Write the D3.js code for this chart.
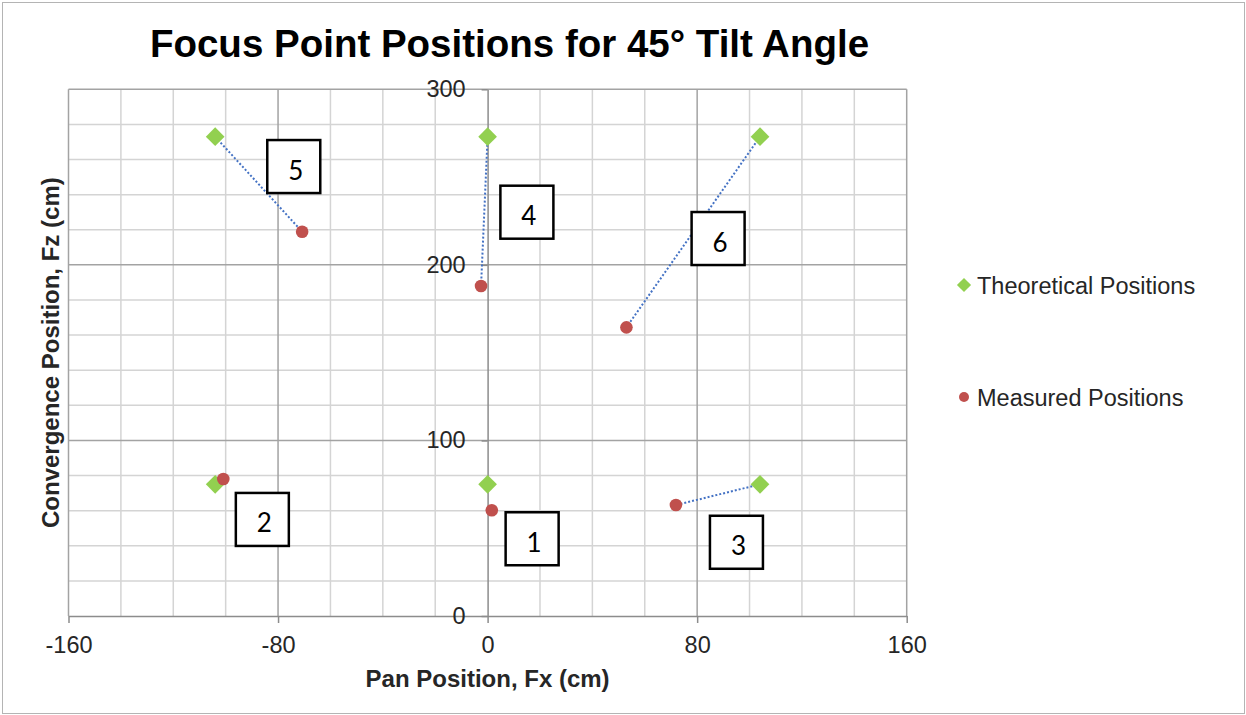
<!DOCTYPE html>
<html>
<head>
<meta charset="utf-8">
<script src="https://cdn.jsdelivr.net/npm/d3@7"></script>
<style>
	body { margin: 0; background: #fff; }
	svg { display: block; }
</style>
</head>
<body>
<div id="chart"></div>
<script>
// 数据
var pointIds = [1, 2, 3, 4, 5, 6];
var theoX = [0, -104, 104, 0, -104, 104];
var theoZ = [75, 75, 75, 273, 273, 273];
var measX = [1.6, -100.9, 71.9, -2.5, -70.8, 53.0];
var measZ = [60.2, 78.0, 63.2, 188.0, 218.9, 164.4];
var linkedIds = [3, 4, 5, 6];
// 编号框的位置 (数据坐标)
var labelX = [17, -86, 95, 15, -74, 88];
var labelZ = [44, 55, 42, 230, 256, 215];
var xTicks = [-160, -80, 0, 80, 160];
var zTicks = [0, 100, 200, 300];
var seriesNames = ['Theoretical Positions', 'Measured Positions'];

var W = 1246, H = 715;
var plot = { left: 68.5, right: 906.7, top: 89.3, bottom: 616 };
var green = '#92d050', red = '#c0504d', blue = '#4472c4';
var armFont = '"Liberation Sans", Arial, sans-serif';

var x = d3.scaleLinear().domain([-160, 160]).range([plot.left, plot.right]);
var y = d3.scaleLinear().domain([0, 300]).range([plot.bottom, plot.top]);

var svg = d3.select('#chart')
	.append('svg')
	.attr('width', W)
	.attr('height', H);

// 外框
svg.append('rect')
	.attr('x', 2.5).attr('y', 2.5)
	.attr('width', W - 4).attr('height', H - 4)
	.attr('fill', '#fff')
	.attr('stroke', '#b4b4b4');

// 网格线
var minorX = d3.range(-160, 161, 20).filter(function (v) { return v % 80 != 0; });
var majorX = d3.range(-160, 161, 80).filter(function (v) { return v != 0; });
var minorZ = d3.range(20, 301, 20).filter(function (v) { return v % 100 != 0; });
var majorZ = [100, 200, 300];

var grid = svg.append('g').attr('class', 'grid');
grid.selectAll('line.mx').data(minorX).enter().append('line')
	.attr('x1', x).attr('x2', x)
	.attr('y1', y(0)).attr('y2', y(300))
	.attr('stroke', '#d4d4d4').attr('stroke-width', 1.5);
grid.selectAll('line.mz').data(minorZ).enter().append('line')
	.attr('x1', x(-160)).attr('x2', x(160))
	.attr('y1', y).attr('y2', y)
	.attr('stroke', '#d4d4d4').attr('stroke-width', 1.5);
grid.selectAll('line.Mx').data(majorX).enter().append('line')
	.attr('x1', x).attr('x2', x)
	.attr('y1', y(0)).attr('y2', y(300))
	.attr('stroke', '#a3a3a3').attr('stroke-width', 1.5);
grid.selectAll('line.Mz').data(majorZ).enter().append('line')
	.attr('x1', x(-160)).attr('x2', x(160))
	.attr('y1', y).attr('y2', y)
	.attr('stroke', '#a3a3a3').attr('stroke-width', 1.5);

// 坐标轴 (用普通连字符作负号)
var plain = function (d) { return String(d); };
var xAxis = svg.append('g')
	.attr('transform', 'translate(0,' + y(0) + ')')
	.call(d3.axisBottom(x).tickValues(xTicks).tickSize(7).tickSizeOuter(0).tickPadding(13)
		.tickFormat(plain));
var yAxis = svg.append('g')
	.attr('transform', 'translate(' + x(0) + ',0)')
	.call(d3.axisLeft(y).tickValues(zTicks).tickSize(6).tickSizeOuter(0).tickPadding(16)
		.tickFormat(plain));

[xAxis, yAxis].forEach(function (ax) {
	ax.select('.domain').attr('stroke', '#8c8c8c').attr('stroke-width', 1.5);
	ax.selectAll('.tick line').attr('stroke', '#8c8c8c').attr('stroke-width', 1.5);
	ax.selectAll('.tick text')
		.attr('font-family', armFont)
		.attr('font-size', 23.5)
		.attr('fill', '#262626');
});

// 理论点与实测点之间的虚线
var links = svg.append('g').attr('class', 'links');
links.selectAll('line').data(linkedIds).enter().append('line')
	.attr('x1', function (d) { return x(theoX[d - 1]); })
	.attr('y1', function (d) { return y(theoZ[d - 1]); })
	.attr('x2', function (d) { return x(measX[d - 1]); })
	.attr('y2', function (d) { return y(measZ[d - 1]); })
	.attr('stroke', blue)
	.attr('stroke-width', 2)
	.attr('stroke-dasharray', '2,2');

// 理论点 (菱形)
var diamond = d3.symbol().type(d3.symbolSquare).size(175);
svg.append('g').selectAll('path').data(pointIds).enter().append('path')
	.attr('d', diamond)
	.attr('transform', function (d) {
		return 'translate(' + x(theoX[d - 1]) + ',' + y(theoZ[d - 1]) + ') rotate(45)';
	})
	.attr('fill', green);

// 实测点 (圆点)
svg.append('g').selectAll('circle').data(pointIds).enter().append('circle')
	.attr('cx', function (d) { return x(measX[d - 1]); })
	.attr('cy', function (d) { return y(measZ[d - 1]); })
	.attr('r', 6.3)
	.attr('fill', red);

// 编号框
var box = 53;
var boxes = svg.append('g').selectAll('g').data(pointIds).enter().append('g')
	.attr('transform', function (d) {
		return 'translate(' + x(labelX[d - 1]) + ',' + y(labelZ[d - 1]) + ')';
	});
boxes.append('rect')
	.attr('x', -box / 2).attr('y', -box / 2)
	.attr('width', box).attr('height', box)
	.attr('fill', '#fff')
	.attr('stroke', '#000')
	.attr('stroke-width', 2.5);
boxes.append('text')
	.attr('x', 2)
	.attr('y', 13)
	.attr('text-anchor', 'middle')
	.attr('font-family', 'Lato, "Open Sans", sans-serif')
	.attr('font-size', 26)
	.attr('fill', '#000')
	.text(function (d) { return d; });

// 标题
svg.append('text')
	.attr('x', 509.5)
	.attr('y', 57)
	.attr('text-anchor', 'middle')
	.attr('font-family', armFont)
	.attr('font-weight', 'bold')
	.attr('font-size', 38.5)
	.attr('fill', '#000')
	.text('Focus Point Positions for 45° Tilt Angle');

// 轴标题
svg.append('text')
	.attr('x', (plot.left + plot.right) / 2)
	.attr('y', 687)
	.attr('text-anchor', 'middle')
	.attr('font-family', armFont)
	.attr('font-weight', 'bold')
	.attr('font-size', 24)
	.attr('fill', '#262626')
	.text('Pan Position, Fx (cm)');

svg.append('text')
	.attr('transform', 'translate(59,' + (plot.top + plot.bottom) / 2 + ') rotate(-90)')
	.attr('text-anchor', 'middle')
	.attr('font-family', armFont)
	.attr('font-weight', 'bold')
	.attr('font-size', 24)
	.attr('fill', '#262626')
	.text('Convergence Position, Fz (cm)');

// 图例
var legendY = [285, 397];
var legend = svg.append('g').selectAll('g').data(seriesNames).enter().append('g')
	.attr('transform', function (d, i) { return 'translate(964,' + legendY[i] + ')'; });
legend.each(function (d, i) {
	var g = d3.select(this);
	if (i == 0) {
		g.append('path')
			.attr('d', d3.symbol().type(d3.symbolSquare).size(100))
			.attr('transform', 'rotate(45)')
			.attr('fill', green);
	} else {
		g.append('circle').attr('r', 5).attr('fill', red);
	}
	g.append('text')
		.attr('x', 13)
		.attr('y', 9)
		.attr('font-family', armFont)
		.attr('font-size', 23.5)
		.attr('fill', '#262626')
		.text(d);
});
</script>
</body>
</html>
